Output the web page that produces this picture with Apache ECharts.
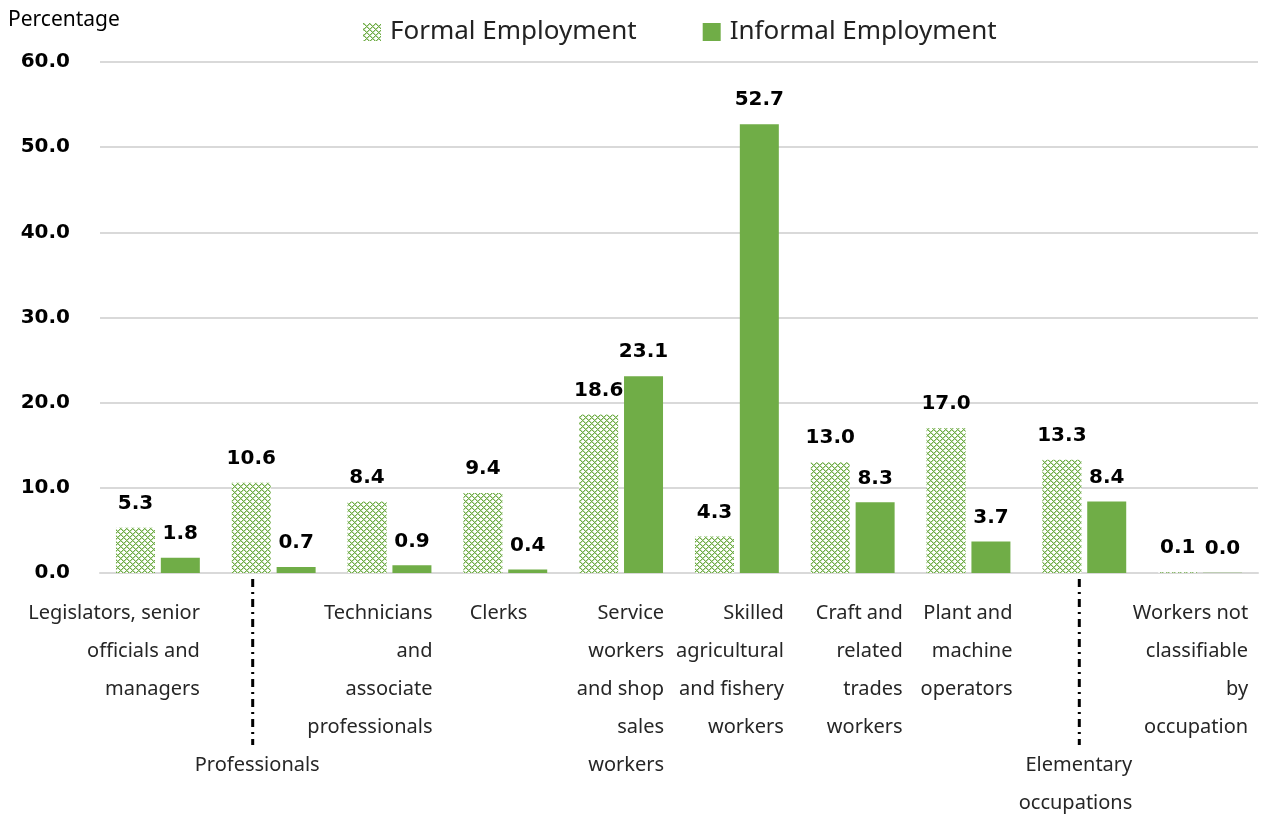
<!DOCTYPE html>
<html>
<head>
<meta charset="utf-8">
<script src="https://cdn.jsdelivr.net/npm/echarts@6/dist/echarts.min.js"></script>
<style>html,body{margin:0;padding:0;background:#fff;}#c{width:1263px;height:816px;}</style>
</head>
<body>
<div id="c"></div>
<script>
const categories = [
  'Legislators, senior officials and managers',
  'Professionals',
  'Technicians and associate professionals',
  'Clerks',
  'Service workers and shop sales workers',
  'Skilled agricultural and fishery workers',
  'Craft and related trades workers',
  'Plant and machine operators',
  'Elementary occupations',
  'Workers not classifiable by occupation'
];
const labelLines = [
  ['Legislators, senior', 'officials and', 'managers'],
  ['', '', '', '', 'Professionals'],
  ['Technicians', 'and', 'associate', 'professionals'],
  ['Clerks'],
  ['Service', 'workers', 'and shop', 'sales', 'workers'],
  ['Skilled', 'agricultural', 'and fishery', 'workers'],
  ['Craft and', 'related', 'trades', 'workers'],
  ['Plant and', 'machine', 'operators'],
  ['', '', '', '', 'Elementary', 'occupations'],
  ['Workers not', 'classifiable', 'by', 'occupation']
];
const formal = [5.3, 10.6, 8.4, 9.4, 18.6, 4.3, 13.0, 17.0, 13.3, 0.1];
const informal = [1.8, 0.7, 0.9, 0.4, 23.1, 52.7, 8.3, 3.7, 8.4, 0.04];
const yTicks = [0, 10, 20, 30, 40, 50, 60];

// layout (not data): half-width of right-aligned label box per category
const labelHalf = [42, 46, 43, 22, 43, 47, 50, 44, 48, 48];
const leaderCats = [1, 8];
const leaderOffsets = [-21, -5];

const FONT = '"Noto Sans", "Open Sans", sans-serif';
const BOLDFONT = '"DejaVu Sans", "Noto Sans", sans-serif';
const GREEN = '#70ad47';

function makePattern() {
  const c = document.createElement('canvas');
  c.width = 6; c.height = 6;
  const ctx = c.getContext('2d');
  ctx.fillStyle = '#ffffff';
  ctx.fillRect(0, 0, 6, 6);
  ctx.fillStyle = GREEN;
  for (let x = 0; x < 6; x++) {
    for (let y = 0; y < 6; y++) {
      if (((x + y) % 6) < 1 || (((x - y) + 6) % 6) < 1) ctx.fillRect(x, y, 1, 1);
    }
  }
  ctx.fillStyle = 'rgba(112,173,71,0.45)';
  for (let x = 0; x < 6; x++) {
    for (let y = 0; y < 6; y++) {
      if (((x + y) % 6) === 1 || (((x - y) + 6) % 6) === 1) ctx.fillRect(x, y, 1, 1);
    }
  }
  return c;
}
const pattern = { image: makePattern(), repeat: 'repeat' };

const rich = { e: { lineHeight: 38, fontSize: 20, fontFamily: FONT } };
labelHalf.forEach((h, i) => {
  rich['r' + i] = { width: h * 2, align: 'right', lineHeight: 38, fontSize: 20, color: '#262626', fontFamily: FONT };
});

const chart = echarts.init(document.getElementById('c'));
chart.setOption({
  animation: false,
  backgroundColor: '#fff',
  title: {
    text: 'Percentage', left: 3, top: 5,
    textStyle: { fontFamily: FONT, fontSize: 21, fontWeight: 'normal', color: '#000' }
  },
  legend: {
    top: 14, left: 358,
    itemWidth: 18, itemHeight: 18, itemGap: 66,
    textStyle: { fontFamily: FONT, fontSize: 26, color: '#222', padding: [0, 0, 0, 4] },
    data: [
      { name: 'Formal Employment', icon: 'rect' },
      { name: 'Informal Employment', icon: 'rect' }
    ]
  },
  grid: { left: 100, right: 5, top: 62, bottom: 243, containLabel: false },
  xAxis: {
    type: 'category',
    data: categories,
    axisLine: { lineStyle: { color: '#d9d9d9', width: 2 } },
    axisTick: { show: false },
    axisLabel: {
      interval: 0,
      margin: 21,
      formatter: function (v, i) {
        return labelLines[i].map(t => t === '' ? '{e| }' : '{r' + i + '|' + t + '}').join('\n');
      },
      rich: rich
    }
  },
  yAxis: {
    type: 'value', min: 0, max: 60, interval: 10,
    axisLine: { show: false }, axisTick: { show: false },
    splitLine: { lineStyle: { color: '#d9d9d9', width: 2 } },
    axisLabel: {
      margin: 30,
      fontFamily: BOLDFONT, fontSize: 20, fontWeight: 'bold', color: '#000',
      formatter: v => yTicks.indexOf(v) >= 0 ? v.toFixed(1) : ''
    }
  },
  series: [
    {
      name: 'Formal Employment', type: 'bar', data: formal,
      barWidth: 39, barGap: '15%',
      itemStyle: { color: pattern },
      label: {
        show: true, position: 'top', distance: 14,
        fontFamily: BOLDFONT, fontSize: 20, fontWeight: 'bold', color: '#000',
        formatter: p => p.value.toFixed(1)
      }
    },
    {
      name: 'Informal Employment', type: 'bar', data: informal,
      barWidth: 39,
      itemStyle: { color: GREEN },
      label: {
        show: true, position: 'top', distance: 14,
        fontFamily: BOLDFONT, fontSize: 20, fontWeight: 'bold', color: '#000',
        formatter: p => p.value.toFixed(1)
      }
    }
  ]
});

// leader lines for the two offset labels
const y0 = chart.convertToPixel({ yAxisIndex: 0 }, 0);
const leaders = leaderCats.map((ci, k) => {
  const x = chart.convertToPixel({ xAxisIndex: 0 }, categories[ci]) + leaderOffsets[k];
  return {
    type: 'line',
    shape: { x1: x, y1: y0 + 6, x2: x, y2: y0 + 172 },
    style: { stroke: '#000', lineWidth: 3, lineDash: [8, 5, 2, 5] },
    silent: true
  };
});
chart.setOption({ graphic: leaders });
</script>
</body>
</html>
